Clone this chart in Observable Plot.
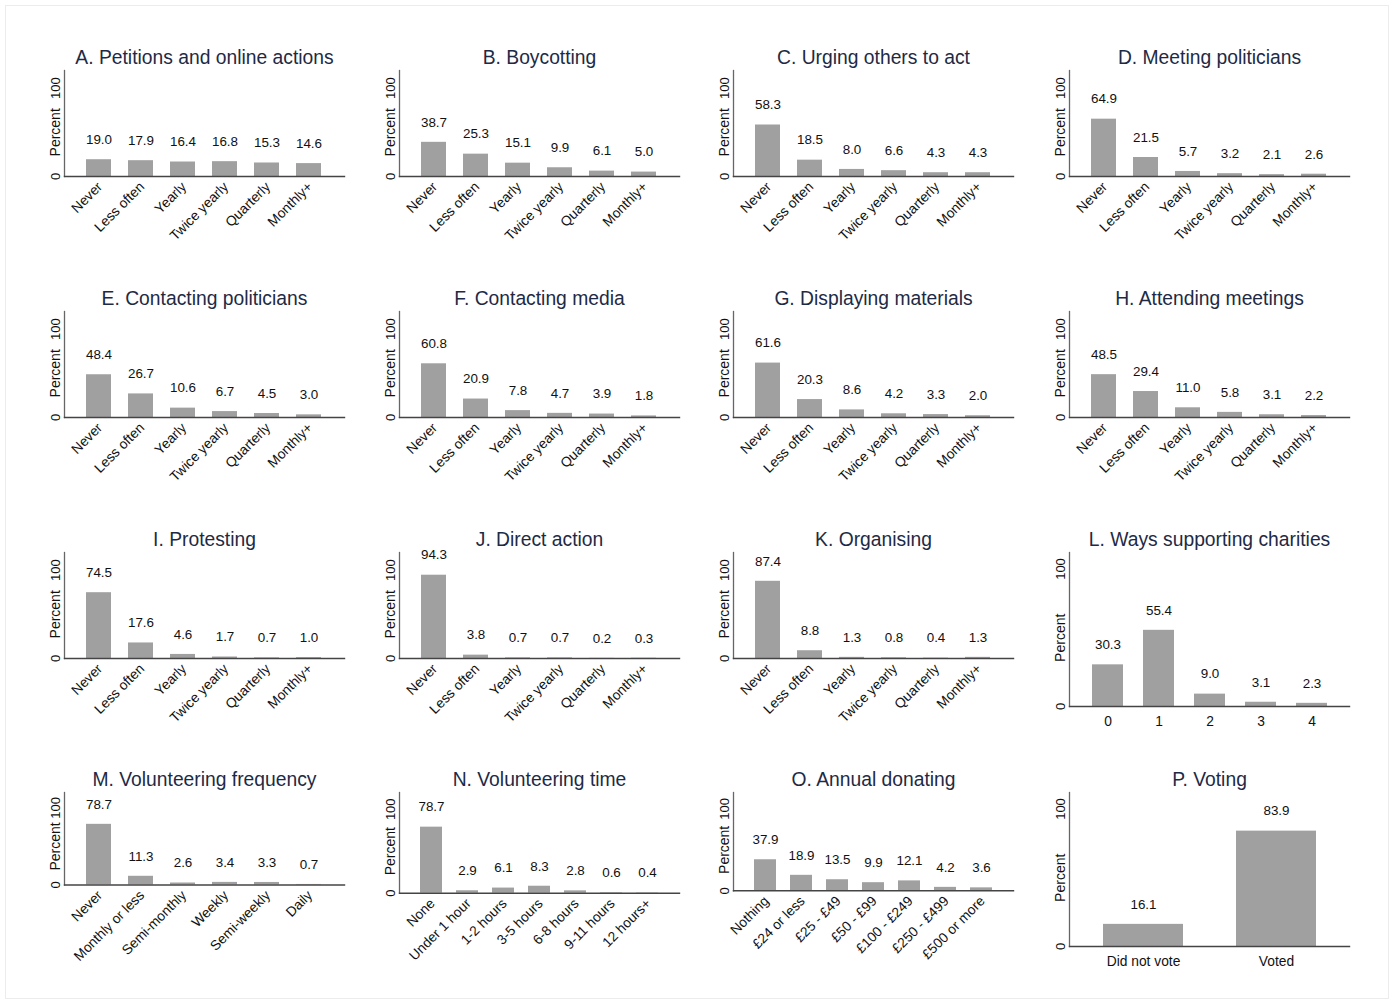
<!DOCTYPE html>
<html>
<head>
<meta charset="utf-8">
<script src="https://cdn.jsdelivr.net/npm/d3@7"></script>
<script src="https://cdn.jsdelivr.net/npm/@observablehq/plot@0.6"></script>
<style>
  body { margin: 0; background: #fff; }
  #page { position: relative; width: 1393px; height: 1004px; background: #fff; overflow: hidden;
          font-family: "Liberation Sans", Arial, sans-serif; }
  #border { position: absolute; left: 5px; top: 5px; width: 1382px; height: 992px; border: 1px solid #ececec; }
  .panel { position: absolute; }
  .panel svg { overflow: visible; }
</style>
</head>
<body>
<div id="page"><div id="border"></div></div>
<script>
// Response categories
const frequency = ["Never", "Less often", "Yearly", "Twice yearly", "Quarterly", "Monthly+"];
const charityWays = ["0", "1", "2", "3", "4"];
const volunteerFrequency = ["Never", "Monthly or less", "Semi-monthly", "Weekly", "Semi-weekly", "Daily"];
const volunteerTime = ["None", "Under 1 hour", "1-2 hours", "3-5 hours", "6-8 hours", "9-11 hours", "12 hours+"];
const donating = ["Nothing", "£24 or less", "£25 - £49", "£50 - £99", "£100 - £249", "£250 - £499", "£500 or more"];
const voting = ["Did not vote", "Voted"];

// Percent of respondents in each category
const petitions = [19.0, 17.9, 16.4, 16.8, 15.3, 14.6];
const boycotting = [38.7, 25.3, 15.1, 9.9, 6.1, 5.0];
const urging = [58.3, 18.5, 8.0, 6.6, 4.3, 4.3];
const meeting = [64.9, 21.5, 5.7, 3.2, 2.1, 2.6];
const contactingPoliticians = [48.4, 26.7, 10.6, 6.7, 4.5, 3.0];
const contactingMedia = [60.8, 20.9, 7.8, 4.7, 3.9, 1.8];
const displaying = [61.6, 20.3, 8.6, 4.2, 3.3, 2.0];
const attending = [48.5, 29.4, 11.0, 5.8, 3.1, 2.2];
const protesting = [74.5, 17.6, 4.6, 1.7, 0.7, 1.0];
const directAction = [94.3, 3.8, 0.7, 0.7, 0.2, 0.3];
const organising = [87.4, 8.8, 1.3, 0.8, 0.4, 1.3];
const charityWaysPct = [30.3, 55.4, 9.0, 3.1, 2.3];
const volunteerFrequencyPct = [78.7, 11.3, 2.6, 3.4, 3.3, 0.7];
const volunteerTimePct = [78.7, 2.9, 6.1, 8.3, 2.8, 0.6, 0.4];
const donatingPct = [37.9, 18.9, 13.5, 9.9, 12.1, 4.2, 3.6];
const votingPct = [16.1, 83.9];

// Axis annotations
const yTicks = [0, 100];
const yLabel = "Percent";

// Panel definitions
const panels = [
  { title: "A. Petitions and online actions", categories: frequency, values: petitions },
  { title: "B. Boycotting", categories: frequency, values: boycotting },
  { title: "C. Urging others to act", categories: frequency, values: urging },
  { title: "D. Meeting politicians", categories: frequency, values: meeting },
  { title: "E. Contacting politicians", categories: frequency, values: contactingPoliticians },
  { title: "F. Contacting media", categories: frequency, values: contactingMedia },
  { title: "G. Displaying materials", categories: frequency, values: displaying },
  { title: "H. Attending meetings", categories: frequency, values: attending },
  { title: "I. Protesting", categories: frequency, values: protesting },
  { title: "J. Direct action", categories: frequency, values: directAction },
  { title: "K. Organising", categories: frequency, values: organising },
  { title: "L. Ways supporting charities", categories: charityWays, values: charityWaysPct },
  { title: "M. Volunteering frequency", categories: volunteerFrequency, values: volunteerFrequencyPct },
  { title: "N. Volunteering time", categories: volunteerTime, values: volunteerTimePct },
  { title: "O. Annual donating", categories: donating, values: donatingPct },
  { title: "P. Voting", categories: voting, values: votingPct }
];

// Grid geometry: left edge of each column's plot area, top of each row's plot area
const colX = [64.3, 399.3, 733.3, 1068.5];
const rowTop = [70, 310.5, 551.5, 792];
const layout = [
  // [plot height, y max, rotated labels, band inset]
  [106, 120, true, 14], [106, 120, true, 14], [106, 120, true, 14], [106, 120, true, 14],
  [106, 120, true, 14], [106, 120, true, 14], [106, 120, true, 14], [106, 120, true, 14],
  [106, 120, true, 14], [106, 120, true, 14], [106, 120, true, 14], [154, 112, false, 12],
  [92.5, 120, true, 14], [100.7, 120, true, 14], [98.3, 120, true, 14], [154, 112, false, 7]
];

const FONT = "Liberation Sans, Arial, sans-serif";
const plotWidth = 280;
const marginTop = 40, marginLeft = 50, marginRight = 8;

const page = document.getElementById("page");

panels.forEach((p, i) => {
  const [plotH, ymax, rotated, inset] = layout[i];
  const data = p.categories.map((c, k) => ({ category: c, value: p.values[k] }));
  const marginBottom = rotated ? 85 : 40;

  const categoryLabels = rotated
    ? Plot.text(data, { x: "category", text: "category", frameAnchor: "bottom", rotate: -45,
        textAnchor: "end", lineAnchor: "middle", dx: 1, dy: 8, fontSize: 13.8, fill: "#111" })
    : Plot.text(data, { x: "category", text: "category", frameAnchor: "bottom",
        lineAnchor: "middle", dy: 15, fontSize: 13.8, fill: "#111" });

  const chart = Plot.plot({
    width: marginLeft + plotWidth + marginRight,
    height: marginTop + plotH + marginBottom,
    marginTop, marginLeft, marginRight, marginBottom,
    style: { background: "none", fontFamily: FONT, color: "#111", overflow: "visible" },
    x: { type: "band", domain: p.categories, paddingInner: 0.4, paddingOuter: 0.2,
         insetLeft: inset, insetRight: inset, axis: null },
    y: { domain: [0, ymax], axis: null },
    marks: [
      Plot.barY(data, { x: "category", y: "value", fill: "#a0a0a0" }),
      Plot.frame({ anchor: "left", stroke: "#666", strokeWidth: 1.3 }),
      Plot.frame({ anchor: "bottom", stroke: "#444", strokeWidth: 1.4 }),
      Plot.text(data, { x: "category", y: "value", text: d => d.value.toFixed(1),
        dy: -20, fontSize: 13.4, fill: "#111" }),
      Plot.text(yTicks, { y: d => d, text: d => String(d), frameAnchor: "left",
        textAnchor: "middle", lineAnchor: "middle", dx: -9, rotate: -90, fontSize: 13, fill: "#111" }),
      Plot.text([yLabel], { y: () => 50, text: d => d, frameAnchor: "left",
        textAnchor: "middle", lineAnchor: "middle", dx: -9, rotate: -90, fontSize: 14, fill: "#111" }),
      categoryLabels,
      Plot.text([p.title], { frameAnchor: "top", lineAnchor: "middle", dy: -13,
        fontSize: 19.3, fill: "#1e2a45" })
    ]
  });

  const holder = document.createElement("div");
  holder.className = "panel";
  holder.style.left = (colX[i % 4] - marginLeft) + "px";
  holder.style.top = (rowTop[Math.floor(i / 4)] - marginTop) + "px";
  holder.appendChild(chart);
  page.appendChild(holder);
});
</script>
</body>
</html>
